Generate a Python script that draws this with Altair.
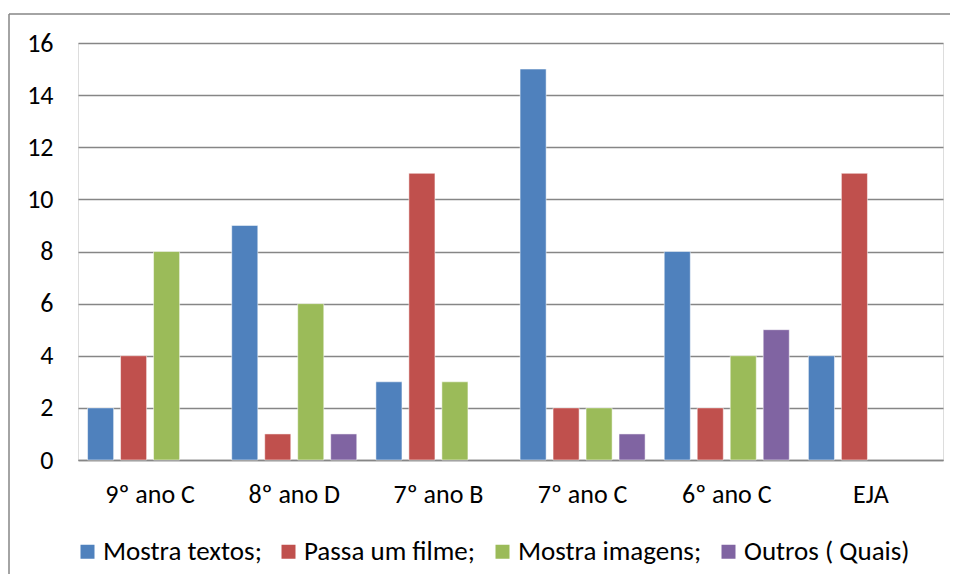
import altair as alt
import pandas as pd

categories = ["9º ano C", "8º ano D", "7º ano B", "7º ano C", "6º ano C", "EJA"]
series = ["Mostra textos;", "Passa um filme;", "Mostra imagens;", "Outros ( Quais)"]
mostra_textos = [2, 9, 3, 15, 8, 4]
passa_um_filme = [4, 1, 11, 2, 2, 11]
mostra_imagens = [8, 6, 3, 2, 4, 0]
outros = [0, 1, 0, 1, 5, 0]
colors = ["#4F81BD", "#C0504D", "#9BBB59", "#8064A2"]
y_ticks = [0, 2, 4, 6, 8, 10, 12, 14, 16]

rows = []
for s, vals in zip(series, [mostra_textos, passa_um_filme, mostra_imagens, outros]):
    for c, v in zip(categories, vals):
        rows.append({"turma": c, "serie": s, "valor": v})
df = pd.DataFrame(rows)
df = df[df["valor"] > 0]

FONT = "Carlito, Lato, sans-serif"
FS = 26

bars = alt.Chart(df).mark_bar(stroke="white", strokeWidth=1, strokeOpacity=0.5).encode(
    x=alt.X("turma:N", sort=categories, title=None,
            scale=alt.Scale(paddingInner=0, paddingOuter=0),
            axis=alt.Axis(labelAngle=0, ticks=False, labelPadding=21, labelFontSize=FS,
                          labelColor="#000000", domainColor="#868686", domainWidth=1.3,
                          labelFont=FONT)),
    xOffset=alt.XOffset("serie:N", sort=series,
                        scale=alt.Scale(paddingInner=0.21, paddingOuter=0.29)),
    y=alt.Y("valor:Q", title=None,
            scale=alt.Scale(domain=[0, 16], nice=False),
            axis=alt.Axis(values=y_ticks, ticks=False, domain=False, labelPadding=25,
                          labelFontSize=FS, labelColor="#000000", gridColor="#868686",
                          gridWidth=1.3, labelFont=FONT)),
    color=alt.Color("serie:N", sort=series, title=None,
                    scale=alt.Scale(domain=series, range=colors),
                    legend=alt.Legend(orient="none", legendX=-4, legendY=495, padding=0,
                                      direction="horizontal", columns=4,
                                      symbolType="square", symbolSize=196,
                                      symbolStrokeWidth=0, labelFontSize=27,
                                      labelFont=FONT, labelColor="#000000",
                                      labelOffset=2, columnPadding=13,
                                      labelLimit=400)),
)

frame = alt.Data(values=[{"a": 1}])
top_line = alt.Chart(frame).mark_rule(color="#868686", strokeWidth=1.5).encode(
    x=alt.value(-69), x2=alt.value(900), y=alt.value(-29)
)
left_line = alt.Chart(frame).mark_rule(color="#868686", strokeWidth=1.5).encode(
    x=alt.value(-69), y=alt.value(-29), y2=alt.value(600)
)

chart = alt.layer(top_line, left_line, bars).properties(
    width=865, height=417,
    autosize=alt.AutoSizeParams(type="none"),
    padding={"left": 70, "top": 35, "right": 7, "bottom": 114},
).configure_view(stroke=None).configure(background="white")

chart.save("out.html", embed_options={"renderer": "svg", "actions": False})
